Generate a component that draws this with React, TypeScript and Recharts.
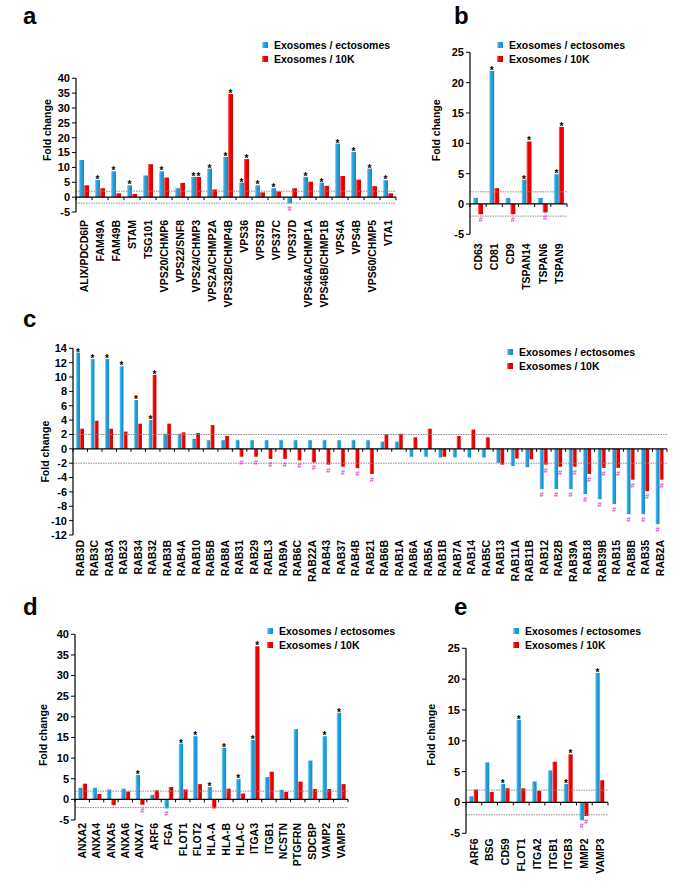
import React from 'react';
import { BarChart, Bar, XAxis, YAxis, ReferenceLine, LabelList, Legend } from 'recharts';

// ---------- Panel a ----------
const aCats = ['ALIX/PDCD6IP', 'FAM49A', 'FAM49B', 'STAM', 'TSG101', 'VPS20/CHMP6', 'VPS22/SNF8', 'VPS24/CHMP3', 'VPS2A/CHMP2A', 'VPS32B/CHMP4B', 'VPS36', 'VPS37B', 'VPS37C', 'VPS37D', 'VPS46A/CHMP1A', 'VPS46B/CHMP1B', 'VPS4A', 'VPS4B', 'VPS60/CHMP5', 'VTA1'];
const aBlue = [12.5, 5.8, 8.7, 4.0, 7.3, 8.7, 3.0, 6.8, 9.6, 13.5, 4.9, 4.0, 3.0, -2.1, 6.8, 4.9, 18.0, 15.2, 9.6, 5.7];
const aRed = [4.0, 3.0, 1.3, 1.1, 11.1, 6.6, 4.8, 6.8, 2.6, 34.7, 12.8, 1.6, 1.9, 3.0, 5.2, 3.8, 7.1, 5.9, 3.7, 1.3];
const aBlueMarks = ['', '*', '*', '*', '', '*', '', '*', '*', '*', '*', '*', '*', '#', '*', '*', '*', '*', '*', '*'];
const aRedMarks = ['', '', '', '', '', '', '', '*', '', '*', '*', '', '', '', '', '', '', '', '', ''];
const aTicks = [-5, 0, 5, 10, 15, 20, 25, 30, 35, 40];

// ---------- Panel b ----------
const bCats = ['CD63', 'CD81', 'CD9', 'TSPAN14', 'TSPAN6', 'TSPAN9'];
const bBlue = [1.0, 21.9, 1.0, 4.0, 1.0, 4.9];
const bRed = [-1.7, 2.6, -1.7, 10.3, -1.4, 12.7];
const bBlueMarks = ['', '*', '', '*', '', '*'];
const bRedMarks = ['#', '', '#', '*', '#', '*'];
const bTicks = [-5, 0, 5, 10, 15, 20, 25];

// ---------- Panel c ----------
const cCats = ['RAB3D', 'RAB3C', 'RAB3A', 'RAB23', 'RAB34', 'RAB32', 'RAB3B', 'RAB4A', 'RAB10', 'RAB5B', 'RAB8A', 'RAB31', 'RAB29', 'RABL3', 'RAB9A', 'RAB6C', 'RAB22A', 'RAB43', 'RAB37', 'RAB4B', 'RAB21', 'RAB6B', 'RAB1A', 'RAB6A', 'RAB5A', 'RAB1B', 'RAB7A', 'RAB14', 'RAB5C', 'RAB13', 'RAB11A', 'RAB11B', 'RAB12', 'RAB2B', 'RAB39A', 'RAB18', 'RAB39B', 'RAB15', 'RAB8B', 'RAB35', 'RAB2A'];
const cBlue = [13.4, 12.5, 12.5, 11.5, 6.8, 4.0, 2.1, 2.1, 1.4, 1.2, 1.2, 1.2, 1.2, 1.2, 1.2, 1.2, 1.2, 1.2, 1.2, 1.2, 1.2, 1.0, 1.0, -1.1, -1.1, -1.2, -1.2, -1.2, -1.2, -1.95, -2.4, -2.55, -5.6, -5.6, -5.6, -6.3, -7.0, -7.7, -9.1, -9.1, -10.5];
const cRed = [2.8, 3.9, 2.8, 2.4, 3.5, 10.3, 3.5, 2.3, 2.2, 3.3, 1.8, -1.1, -1.1, -1.4, -1.4, -1.6, -1.9, -2.2, -2.5, -2.7, -3.5, 2.0, 2.1, 1.6, 2.8, -1.1, 1.8, 2.7, 1.6, -2.2, -1.35, -1.45, -2.2, -2.5, -2.5, -3.5, -2.65, -2.65, -4.3, -5.9, -4.3];
const cBlueMarks = ['*', '*', '*', '*', '*', '*', '', '', '', '', '', '', '', '', '', '', '', '', '', '', '', '', '', '', '', '', '', '', '', '', '', '', '#', '#', '#', '#', '#', '#', '#', '#', '#'];
const cRedMarks = ['', '', '', '', '', '*', '', '', '', '', '', '#', '#', '#', '#', '#', '#', '#', '#', '#', '#', '', '', '', '', '', '', '', '', '', '', '', '#', '#', '#', '#', '#', '#', '#', '#', '#'];
const cTicks = [-12, -10, -8, -6, -4, -2, 0, 2, 4, 6, 8, 10, 12, 14];

// ---------- Panel d ----------
const dCats = ['ANXA2', 'ANXA4', 'ANXA5', 'ANXA6', 'ANXA7', 'ARF6', 'FGA', 'FLOT1', 'FLOT2', 'HLA-A', 'HLA-B', 'HLA-C', 'ITGA3', 'ITGB1', 'NCSTN', 'PTGFRN', 'SDCBP', 'VAMP2', 'VAMP3'];
const dBlue = [2.8, 2.8, 2.4, 2.6, 5.9, 1.1, -2.2, 13.5, 15.3, 3.0, 12.5, 4.9, 14.4, 5.4, 2.3, 17.0, 9.4, 15.3, 21.0];
const dRed = [3.8, 1.3, -1.4, 1.9, -1.3, 2.2, 3.0, 2.4, 3.7, -2.2, 2.6, 1.4, 37.1, 6.7, 1.8, 4.3, 2.5, 2.5, 3.7];
const dBlueMarks = ['', '', '', '', '*', '', '#', '*', '*', '*', '*', '*', '*', '', '', '', '', '*', '*'];
const dRedMarks = ['', '', '', '', '#', '', '', '', '', '', '', '', '*', '', '', '', '', '', ''];
const dTicks = [-5, 0, 5, 10, 15, 20, 25, 30, 35, 40];

// ---------- Panel e ----------
const eCats = ['ARF6', 'BSG', 'CD59', 'FLOT1', 'ITGA2', 'ITGB1', 'ITGB3', 'MMP2', 'VAMP3'];
const eBlue = [1.0, 6.5, 3.0, 13.4, 3.4, 5.2, 3.0, -2.9, 21.0];
const eRed = [2.1, 1.7, 2.3, 2.3, 1.9, 6.6, 7.8, -2.2, 3.6];
const eBlueMarks = ['', '', '*', '*', '', '', '*', '#', '*'];
const eRedMarks = ['', '', '', '', '', '', '*', '#', ''];
const eTicks = [-5, 0, 5, 10, 15, 20, 25];

const seriesNames = ['Exosomes / ectosomes', 'Exosomes / 10K'];
const thresholds = [2, -2];

const FONT = '"Liberation Sans", Arial, Helvetica, sans-serif';
const BLUE_CSS = 'linear-gradient(to right, #9be0fa 0%, #22a4df 35%, #138cca 100%)';
const RED_CSS = 'linear-gradient(to right, #ff7a7a 0%, #f20000 35%, #d80000 100%)';

function build(cats: string[], blue: number[], red: number[], bm: string[], rm: string[]) {
  return cats.map((name, i) => ({ name, blue: blue[i], red: red[i], bm: bm[i], rm: rm[i] }));
}

const renderMark = (props: any) => {
  const vb = props.viewBox || props;
  const x = Number(vb.x);
  const y = Number(vb.y);
  const w = Number(vb.width);
  const h = Number(vb.height);
  const value = props.value;
  if (!value || isNaN(x) || isNaN(y)) return null;
  const top = Math.min(y, y + h);
  const bottom = Math.max(y, y + h);
  const cx = x + w / 2;
  if (value === '*') {
    return (
      <text x={cx} y={top + 3} textAnchor="middle" fontSize={10} fontWeight={700} fill="#000">*</text>
    );
  }
  return (
    <text x={cx} y={bottom + 8} textAnchor="middle" fontSize={7.5} fontWeight={700} fill="#e23fcf">#</text>
  );
};

const makeZeroAxis = (n: number) => (props: any) => {
  const { x1, y1, x2 } = props;
  const ticks = [];
  for (let k = 0; k <= n; k++) {
    const tx = x1 + (k * (x2 - x1)) / n;
    ticks.push(<line key={k} x1={tx} x2={tx} y1={y1} y2={y1 + 3} stroke="#000" strokeWidth={1} />);
  }
  return (
    <g>
      <line x1={x1} x2={x2} y1={y1} y2={y1} stroke="#000" strokeWidth={1.2} />
      {ticks}
    </g>
  );
};

const makeCatTick = (gap: number) => (props: any) => {
  const { x, y, payload } = props;
  const ty = y + gap;
  return (
    <text x={x} y={ty} transform={`rotate(-90 ${x} ${ty})`} textAnchor="end" dy="0.36em" fontSize={10.5} fontWeight={700} fill="#000">
      {payload.value}
    </text>
  );
};

const LegendContent = () => (
  <div style={{ fontFamily: FONT, fontSize: 10.5, fontWeight: 700, color: '#000' }}>
    {seriesNames.map((s, i) => (
      <div key={s} style={{ display: 'flex', alignItems: 'center', height: 14, whiteSpace: 'nowrap' }}>
        <div style={{ width: 6, height: 6, background: i === 0 ? BLUE_CSS : RED_CSS, marginRight: 6 }} />
        <span>{s}</span>
      </div>
    ))}
  </div>
);

type PanelProps = {
  id: string;
  left: number;
  top: number;
  width: number;
  height: number;
  margin: { top: number; left: number; right: number; bottom: number };
  xAxisHeight: number;
  data: any[];
  domain: [number, number];
  ticks: number[];
  barSize: number;
  labelDx: number;
  labelDy: number;
  gap: number;
  legendLeft: number;
  legendTop: number;
};

function Panel(p: PanelProps) {
  const n = p.data.length;
  return (
    <div style={{ position: 'absolute', left: p.left, top: p.top }}>
      <BarChart width={p.width} height={p.height} data={p.data} margin={p.margin} barGap={0}>
        <defs>
          <linearGradient id={`${p.id}-blue`} x1="0" y1="0" x2="1" y2="0">
            <stop offset="0%" stopColor="#9be0fa" />
            <stop offset="35%" stopColor="#22a4df" />
            <stop offset="100%" stopColor="#138cca" />
          </linearGradient>
          <linearGradient id={`${p.id}-red`} x1="0" y1="0" x2="1" y2="0">
            <stop offset="0%" stopColor="#ff7a7a" />
            <stop offset="35%" stopColor="#f20000" />
            <stop offset="100%" stopColor="#d80000" />
          </linearGradient>
        </defs>
        <XAxis
          dataKey="name"
          interval={0}
          axisLine={false}
          tickLine={false}
          tickSize={0}
          tickMargin={0}
          height={p.xAxisHeight}
          tick={makeCatTick(p.gap)}
        />
        <YAxis
          type="number"
          width={40}
          domain={p.domain}
          ticks={p.ticks}
          interval={0}
          tickSize={4}
          tickMargin={2}
          axisLine={{ stroke: '#000', strokeWidth: 1.2 }}
          tickLine={{ stroke: '#000' }}
          tick={{ fontSize: 11, fontWeight: 700, fill: '#000' }}
          label={{ value: 'Fold change', angle: -90, position: 'center', dx: p.labelDx, dy: p.labelDy, fontSize: 10.5, fontWeight: 700, fill: '#000' }}
        />
        {thresholds.map((t) => (
          <ReferenceLine key={t} y={t} stroke="#8a8a8a" strokeWidth={1} strokeDasharray="1.5 1" />
        ))}
        <Bar dataKey="blue" name={seriesNames[0]} fill={`url(#${p.id}-blue)`} barSize={p.barSize} isAnimationActive={false}>
          <LabelList dataKey="bm" content={renderMark} />
        </Bar>
        <Bar dataKey="red" name={seriesNames[1]} fill={`url(#${p.id}-red)`} barSize={p.barSize} isAnimationActive={false}>
          <LabelList dataKey="rm" content={renderMark} />
        </Bar>
        <ReferenceLine y={0} stroke="#000" shape={makeZeroAxis(n)} />
        <Legend
          layout="vertical"
          align="center"
          verticalAlign="middle"
          content={<LegendContent />}
          wrapperStyle={{ left: p.legendLeft, top: p.legendTop, width: 'auto' }}
        />
      </BarChart>
    </div>
  );
}

const letterStyle: React.CSSProperties = {
  position: 'absolute',
  fontFamily: FONT,
  fontSize: 24,
  fontWeight: 700,
  lineHeight: 1,
  color: '#000',
};

export default function App() {
  return (
    <div style={{ position: 'absolute', left: 0, top: 0, width: 700, height: 889, background: '#fff', fontFamily: FONT }}>
      <div style={{ ...letterStyle, left: 23, top: 4 }}>a</div>
      <div style={{ ...letterStyle, left: 454, top: 4 }}>b</div>
      <div style={{ ...letterStyle, left: 23, top: 307 }}>c</div>
      <div style={{ ...letterStyle, left: 23, top: 595 }}>d</div>
      <div style={{ ...letterStyle, left: 454, top: 595 }}>e</div>

      <Panel
        id="pa" left={0} top={30} width={420} height={300}
        margin={{ top: 48.3, left: 36, right: 24, bottom: 0 }} xAxisHeight={118}
        data={build(aCats, aBlue, aRed, aBlueMarks, aRedMarks)} domain={[-5, 40]} ticks={aTicks}
        barSize={5} labelDx={-9} labelDy={-15} gap={8} legendLeft={262} legendTop={8}
      />
      <Panel
        id="pb" left={420} top={30} width={170} height={270}
        margin={{ top: 22.3, left: 10, right: 23, bottom: 0 }} xAxisHeight={65.7}
        data={build(bCats, bBlue, bRed, bBlueMarks, bRedMarks)} domain={[-5, 25]} ticks={bTicks}
        barSize={5} labelDx={-14} labelDy={-13} gap={9} legendLeft={77} legendTop={8}
      />
      <Panel
        id="pc" left={0} top={330} width={690} height={262}
        margin={{ top: 18.3, left: 33, right: 23, bottom: 0 }} xAxisHeight={57}
        data={build(cCats, cBlue, cRed, cBlueMarks, cRedMarks)} domain={[-12, 14]} ticks={cTicks}
        barSize={4} labelDx={-8} labelDy={10} gap={5} legendLeft={507} legendTop={15}
      />
      <Panel
        id="pd" left={0} top={620} width={420} height={260}
        margin={{ top: 14.3, left: 35, right: 72, bottom: 0 }} xAxisHeight={60}
        data={build(dCats, dBlue, dRed, dBlueMarks, dRedMarks)} domain={[-5, 40]} ticks={dTicks}
        barSize={4.5} labelDx={-12} labelDy={8} gap={3} legendLeft={267} legendTop={4}
      />
      <Panel
        id="pe" left={420} top={620} width={280} height={260}
        margin={{ top: 28.3, left: 6, right: 92, bottom: 0 }} xAxisHeight={46.7}
        data={build(eCats, eBlue, eRed, eBlueMarks, eRedMarks)} domain={[-5, 25]} ticks={eTicks}
        barSize={4.5} labelDx={-15} labelDy={-6} gap={5} legendLeft={93} legendTop={4}
      />
    </div>
  );
}
